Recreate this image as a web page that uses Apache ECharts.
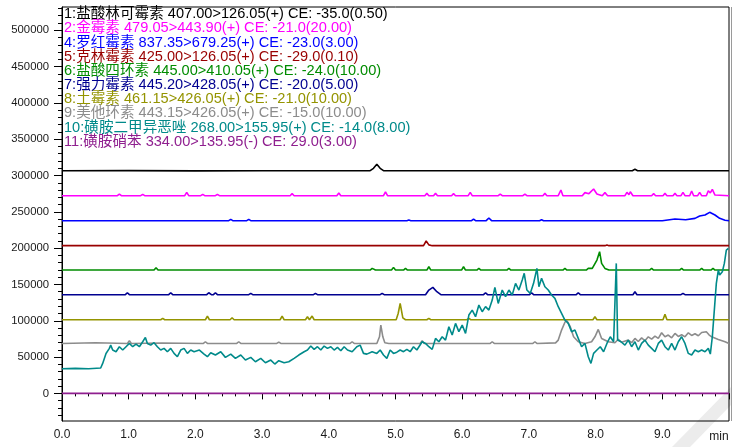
<!DOCTYPE html>
<html>
<head>
<meta charset="utf-8">
<script src="https://cdn.jsdelivr.net/npm/echarts@6/dist/echarts.min.js"></script>
<style>
  html, body { margin: 0; padding: 0; background: #fff; }
  #chart { width: 732px; height: 447px; }
</style>
</head>
<body>
<div id="chart"></div>
<script>
// MRM chromatogram traces, stacked with offsets; time in min, intensity in counts.
const compoundNames = ['1:盐酸林可霉素', '2:金霉素', '4:罗红霉素', '5:克林霉素', '6:盐酸四环素',
  '7:强力霉素', '8:土霉素', '9:美他环素', '10:磺胺二甲异恶唑', '11:磺胺硝苯'];
const transitions = ['407.00>126.05(+) CE: -35.0(0.50)', '479.05>443.90(+) CE: -21.0(20.00)',
  '837.35>679.25(+) CE: -23.0(3.00)', '425.00>126.05(+) CE: -29.0(0.10)',
  '445.00>410.05(+) CE: -24.0(10.00)', '445.20>428.05(+) CE: -20.0(5.00)',
  '461.15>426.05(+) CE: -21.0(10.00)', '443.15>426.05(+) CE: -15.0(10.00)',
  '268.00>155.95(+) CE: -14.0(8.00)', '334.00>135.95(-) CE: 29.0(3.00)'];
const traceColors = ['#000000', '#ff00ff', '#0000ff', '#990000', '#008c00',
  '#000090', '#949400', '#8c8c8c', '#008a8a', '#8f1f8f'];

const xTickLabels = ['0.0', '1.0', '2.0', '3.0', '4.0', '5.0', '6.0', '7.0', '8.0', '9.0'];
const yMajorTicks = [0, 50000, 100000, 150000, 200000, 250000, 300000, 350000, 400000, 450000, 500000];

const trace1 = [[0,306500],[1.0,306700],[2.0,306400],[3.0,306600],[4.0,306500],[4.62,306700],
  [4.67,309900],[4.72,315400],[4.77,309900],[4.82,306700],[6.0,306500],[8.55,306600],[8.59,308500],
  [8.63,306600],[10,306600]];

const trace2 = [[0,272200],[0.83,272200],[0.86,274500],[0.89,272200],[1.18,272200],[1.21,274000],
  [1.24,272200],[1.84,272200],[1.87,276800],[1.90,272200],[2.08,272200],[2.11,274000],[2.14,272200],
  [2.30,272200],[2.33,274000],[2.36,272200],[3.42,272200],[3.45,275000],[3.48,272200],[4.12,272200],
  [4.15,275900],[4.18,272200],[4.82,272200],[4.85,277300],[4.88,272200],[5.44,272200],[5.47,275400],
  [5.50,272200],[5.57,272200],[5.60,275400],[5.63,272200],[5.84,272200],[5.87,275000],[5.90,272200],
  [6.09,272200],[6.12,276800],[6.15,272200],[6.54,272200],[6.57,274500],[6.60,272200],[6.91,272200],
  [6.94,274500],[6.97,272200],[7.21,272200],[7.24,275400],[7.27,272200],[7.44,272200],[7.48,280000],
  [7.51,272200],[7.80,272200],[7.84,276400],[7.90,275000],[7.97,281400],[8.02,274500],[8.10,272200],
  [8.14,276400],[8.18,272200],[8.44,272200],[8.47,276800],[8.50,273500],[8.52,277700],[8.56,272200],
  [8.84,272200],[8.87,275000],[8.90,272200],[9.01,272200],[9.04,275400],[9.07,272200],[9.16,272200],
  [9.19,275400],[9.22,272200],[9.28,272200],[9.31,276800],[9.34,272200],[9.41,272200],[9.44,278700],
  [9.47,272200],[9.53,272200],[9.56,276800],[9.59,272200],[9.66,272200],[9.69,279100],[9.72,276000],
  [9.75,281000],[9.79,273100],[10,272200]];

const trace4 = [[0,237800],[2.50,237800],[2.53,239600],[2.56,237800],[2.77,237800],[2.80,239600],
  [2.83,237800],[5.17,237800],[5.20,238700],[5.23,237800],[6.14,237800],[6.17,240100],[6.20,237800],
  [6.36,237800],[6.40,241500],[6.44,237800],[7.16,237800],[7.19,239200],[7.22,237800],[9.0,237800],
  [9.19,240100],[9.35,239000],[9.49,241000],[9.56,244200],[9.64,245600],[9.71,249300],[9.79,245600],
  [9.86,241000],[9.94,238300],[10,237800]];

const trace5 = [[0,203400],[5.42,203400],[5.46,209800],[5.50,204500],[5.55,203400],[8.14,203400],
  [8.17,204300],[8.20,203400],[10,203400]];

const trace6 = [[0,169800],[1.38,169800],[1.41,173100],[1.44,169800],[4.62,169800],[4.65,172100],
  [4.70,169800],[4.94,169800],[4.97,173500],[5.00,169800],[5.12,169800],[5.15,172100],[5.18,169800],
  [5.47,169800],[5.50,174400],[5.53,169800],[5.99,169800],[6.02,174400],[6.05,169800],[6.22,169800],
  [6.25,172100],[6.28,169800],[6.67,169800],[6.70,172100],[6.73,169800],[7.51,169800],[7.54,172100],
  [7.57,169800],[7.86,169800],[7.89,172100],[7.95,172100],[8.02,183600],[8.06,195100],[8.09,179000],
  [8.14,172100],[8.20,169800],[8.81,169800],[8.84,172100],[8.87,169800],[9.26,169800],[9.29,172100],
  [9.32,169800],[9.56,169800],[9.59,172100],[9.62,169800],[9.73,169800],[9.76,172100],[9.79,169800],
  [10,169800]];

const trace7 = [[0,135900],[0.95,135900],[0.98,138600],[1.01,135900],[1.60,135900],[1.63,138600],
  [1.66,135900],[2.17,135900],[2.20,138600],[2.24,135900],[2.27,135900],[2.30,138600],[2.33,135900],
  [2.80,135900],[2.83,137700],[2.86,135900],[3.77,135900],[3.80,137700],[3.83,135900],[4.77,135900],
  [4.80,137700],[4.83,135900],[5.45,135900],[5.50,142300],[5.56,146000],[5.62,140000],[5.68,135900],
  [6.32,135900],[6.35,138600],[6.38,135900],[7.01,135900],[7.04,138600],[7.07,135900],[7.71,135900],
  [7.74,138600],[7.77,135900],[8.56,135900],[8.59,140000],[8.62,135900],[9.28,135900],[9.31,137700],
  [9.34,135900],[10,135900]];

const trace8 = [[0,101400],[1.48,101400],[1.51,103300],[1.54,101400],[2.15,101400],[2.18,106500],
  [2.21,101400],[2.52,101400],[2.55,104200],[2.58,101400],[3.27,101400],[3.30,106500],[3.33,101400],
  [3.65,101400],[3.68,105600],[3.71,101400],[3.75,106500],[3.78,101400],[5.01,101400],[5.04,110000],
  [5.07,123900],[5.11,104000],[5.15,101400],[5.47,101400],[5.50,103300],[5.53,101400],[6.07,101400],
  [6.10,103300],[6.13,101400],[7.96,101400],[7.99,105600],[8.02,101400],[9.01,101400],[9.04,108800],
  [9.07,101400],[10,101400]];

const trace9 = [[0,68800],[0.5,69800],[0.98,68800],[1.01,72500],[1.04,68800],[1.5,69300],[2.12,68800],
  [2.15,71100],[2.18,68800],[2.62,68800],[2.65,71100],[2.68,68800],[3.22,68800],[3.25,70700],
  [3.28,68800],[4.32,68800],[4.35,71100],[4.38,68800],[4.72,68800],[4.76,77900],[4.78,94100],
  [4.81,77900],[4.84,69800],[4.90,68800],[5.37,68800],[5.40,72500],[5.43,68800],[6.42,68800],
  [6.45,71100],[6.48,68800],[7.06,68800],[7.09,71100],[7.12,68800],[7.40,69500],[7.44,73400],
  [7.49,87200],[7.54,98000],[7.57,100100],[7.62,91800],[7.67,77900],[7.74,71100],[7.84,68800],
  [7.94,71100],[7.99,77900],[8.04,88100],[8.09,75700],[8.19,71100],[8.29,69800],[8.34,74500],
  [8.39,70400],[8.49,73400],[8.54,69800],[8.59,75700],[8.64,71500],[8.69,76400],[8.74,72500],
  [8.79,77900],[8.84,74800],[8.89,78800],[8.94,75700],[8.99,83500],[9.04,77900],[9.09,80300],
  [9.14,76600],[9.19,82600],[9.24,78400],[9.29,80700],[9.34,77900],[9.39,83500],[9.44,79800],
  [9.49,82100],[9.54,79300],[9.59,83900],[9.66,84900],[9.70,80700],[9.74,77900],[9.84,74300],
  [9.94,71100],[10,68800]];

const trace10 = [[0,34000],[0.2,34500],[0.4,34000],[0.58,35000],[0.61,41300],[0.66,55000],[0.71,62000],
  [0.73,66500],[0.76,59700],[0.81,57400],[0.86,64300],[0.91,59700],[0.96,64300],[1.01,68800],
  [1.06,64300],[1.11,67900],[1.16,64300],[1.21,71100],[1.25,77100],[1.28,68800],[1.33,66500],
  [1.38,69800],[1.43,64300],[1.48,59700],[1.53,62000],[1.58,57400],[1.63,62000],[1.68,55100],
  [1.73,50500],[1.78,59700],[1.83,62000],[1.88,55100],[1.93,59700],[1.98,57400],[2.06,59700],
  [2.13,54100],[2.18,50500],[2.23,56000],[2.30,52800],[2.38,57400],[2.45,49600],[2.53,54100],
  [2.60,48200],[2.68,52800],[2.75,45900],[2.83,49600],[2.90,43600],[2.98,48200],[3.05,42200],
  [3.13,45900],[3.19,40400],[3.25,45000],[3.33,42200],[3.40,43600],[3.48,48200],[3.55,52800],
  [3.63,57400],[3.68,59700],[3.73,65200],[3.78,60600],[3.83,64300],[3.88,59700],[3.93,65200],
  [3.98,62000],[4.03,64300],[4.08,59700],[4.13,63300],[4.18,58700],[4.23,64300],[4.28,59700],
  [4.35,57400],[4.42,64300],[4.47,66500],[4.52,55100],[4.57,54100],[4.65,57400],[4.72,55100],
  [4.77,59700],[4.82,52800],[4.87,48200],[4.92,59700],[4.97,55100],[5.02,56800],[5.07,59700],
  [5.12,57400],[5.17,60600],[5.22,57400],[5.27,64300],[5.32,59700],[5.40,71100],[5.45,68800],
  [5.50,64300],[5.55,60600],[5.60,75700],[5.65,71100],[5.70,78000],[5.75,73400],[5.80,91800],
  [5.85,80300],[5.90,96400],[5.95,85000],[6.00,94100],[6.05,82600],[6.10,107900],[6.15,114700],
  [6.20,105600],[6.25,121600],[6.30,112500],[6.35,119400],[6.40,114700],[6.45,128500],[6.49,146000],
  [6.54,123900],[6.60,142300],[6.65,133100],[6.70,142300],[6.75,135400],[6.80,151500],[6.85,142300],
  [6.90,156100],[6.93,165300],[6.97,142300],[7.02,137700],[7.07,151500],[7.12,172100],[7.15,146900],
  [7.19,158400],[7.24,146900],[7.29,142300],[7.34,135400],[7.39,130800],[7.44,119400],[7.49,110200],
  [7.54,101000],[7.59,96400],[7.64,85000],[7.69,87200],[7.74,75700],[7.79,64300],[7.84,68800],
  [7.89,50500],[7.93,41300],[7.97,55100],[8.02,59700],[8.07,64300],[8.12,57400],[8.17,68800],
  [8.22,78000],[8.27,71100],[8.31,179000],[8.33,73400],[8.38,71100],[8.44,66500],[8.49,73400],
  [8.54,64300],[8.59,71100],[8.64,59700],[8.69,68800],[8.74,73400],[8.79,66500],[8.84,62000],
  [8.89,57400],[8.94,68800],[8.99,73400],[9.04,64300],[9.09,59700],[9.14,68800],[9.19,59700],
  [9.24,71100],[9.29,78000],[9.34,68800],[9.39,55100],[9.44,52800],[9.49,59700],[9.54,57400],
  [9.59,59700],[9.64,57400],[9.69,62000],[9.72,54100],[9.75,78000],[9.78,114700],[9.81,151500],
  [9.84,169800],[9.86,163000],[9.90,167500],[9.93,179000],[9.96,197400],[9.99,199700]];

const trace11 = [[0,0],[2.0,0],[5.0,0],[8.0,0],[10,0]];

const traces = [trace1, trace2, trace4, trace5, trace6, trace7, trace8, trace9, trace10, trace11];

// minor ticks every 10000 along the intensity axis
const yMinorTicks = [];
for (let v = -30000; v <= 530000; v += 10000) yMinorTicks.push(v);

const FONT = '"Liberation Sans", Arial, "Noto Sans CJK SC", sans-serif';
const chart = echarts.init(document.getElementById('chart'), null, { renderer: 'canvas' });

const gridLeft = 62, gridTop = 7, gridRight = 1.5, gridBottom = 26;

const labelTexts = compoundNames.map((name, i) => ({
  type: 'text',
  x: 64,
  y: 14.3 + i * 14.15,
  z: 50,
  style: {
    text: name + ' ' + transitions[i],
    fill: traceColors[i],
    font: '14.6px ' + FONT,
    verticalAlign: 'middle',
    textVerticalAlign: 'middle'
  }
}));

const option = {
  animation: false,
  backgroundColor: '#ffffff',
  grid: {
    left: gridLeft, top: gridTop, right: gridRight, bottom: gridBottom,
    show: true, borderColor: '#000', borderWidth: 1, backgroundColor: 'transparent'
  },
  xAxis: {
    type: 'value', min: 0, max: 10, interval: 1,
    axisLine: { show: true, lineStyle: { color: '#000', width: 1 } },
    axisTick: { show: true, length: 6, lineStyle: { color: '#000' } },
    minorTick: { show: true, splitNumber: 5, length: 3, lineStyle: { color: '#000' } },
    splitLine: { show: false },
    minorSplitLine: { show: false },
    axisLabel: {
      color: '#1a1a1a', fontSize: 12, fontFamily: FONT, margin: 8,
      formatter: v => (v < 10 ? xTickLabels[Math.round(v)] : '')
    }
  },
  yAxis: [
    {
      type: 'value', position: 'left', min: -38000, max: 532000,
      axisLine: { show: true, lineStyle: { color: '#000', width: 1 } },
      axisTick: { show: true, length: 8, customValues: yMajorTicks, lineStyle: { color: '#000' } },
      axisLabel: {
        customValues: yMajorTicks, color: '#1a1a1a', fontSize: 11.3, fontFamily: FONT, margin: 13,
        formatter: v => String(v)
      },
      splitLine: { show: false }
    },
    {
      type: 'value', position: 'left', min: -38000, max: 532000,
      axisLine: { show: false },
      axisTick: { show: true, length: 4, customValues: yMinorTicks, lineStyle: { color: '#000' } },
      axisLabel: { show: false },
      splitLine: { show: false }
    }
  ],
  series: traces.map((data, i) => ({
    type: 'line',
    name: compoundNames[i],
    data: data,
    yAxisIndex: 0,
    showSymbol: false,
    symbol: 'none',
    silent: true,
    z: i === 8 ? 5 : 3,
    lineStyle: { color: traceColors[i], width: 1.6 }
  })),
  graphic: [
    {
      type: 'polygon', z: -10, silent: true,
      shape: { points: [[672, 447], [732, 386], [732, 404], [690, 447]] },
      style: { fill: '#ececec' }
    },
    {
      type: 'line', z: 40, silent: true,
      shape: { x1: 731.5, y1: gridTop, x2: 731.5, y2: 447 - gridBottom },
      style: { stroke: '#9a9a9a', lineWidth: 1 }
    },
    {
      type: 'text', x: 719, y: 437, z: 50,
      style: { text: 'min', fill: '#1a1a1a', font: '12px ' + FONT, align: 'center', verticalAlign: 'middle' }
    }
  ].concat(labelTexts)
};

chart.setOption(option);
</script>
</body>
</html>
